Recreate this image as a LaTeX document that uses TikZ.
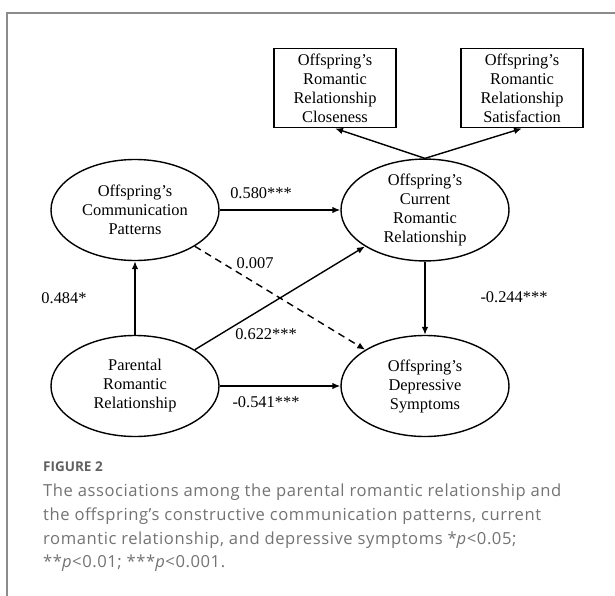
\documentclass[tikz,border=0pt]{standalone}
\usepackage{fontspec}
\setmainfont{Liberation Serif}
\newfontfamily\capfont[LetterSpace=3.4]{Open Sans}
\newfontfamily\figfont{Open Sans}
\usetikzlibrary{shapes.geometric,arrows.meta}

\begin{document}
\begin{tikzpicture}[x=1pt, y=-1pt,
		latent/.style={ellipse, draw, line width=1.4pt, minimum width=168pt, minimum height=101pt, inner sep=0pt, align=center, font=\fontsize{16.4}{19}\selectfont},
		observed/.style={rectangle, draw, line width=1.8pt, minimum width=122pt, minimum height=79pt, inner sep=0pt, align=center, font=\fontsize{16.4}{19}\selectfont},
		effect/.style={line width=1.4pt, -{Latex[length=8pt,width=6.5pt]}},
		coef/.style={inner sep=0pt, font=\fontsize{16.4}{19}\selectfont},
		capline/.style={anchor=base west, inner sep=0pt, text=black!55, font=\capfont\fontsize{16.6}{20}\selectfont}]
			%%%%% START %%%%%
			
			\useasboundingbox (0, 0) rectangle (615, 596);
			\draw[line width=1.5pt, color=black!45] (7, 596) -- (7, 13) -- (615, 13);
			
			% measured variables
			\node[observed] (close) at (335, 88) {Offspring’s\\Romantic\\Relationship\\Closeness};
			\node[observed] (satis) at (522, 88) {Offspring’s\\Romantic\\Relationship\\Satisfaction};
			
			% latent variables
			\node[latent] (comm) at (135, 210) {Offspring’s\\Communication\\Patterns};
			\node[latent] (curr) at (425, 210) {Offspring’s\\Current\\Romantic\\Relationship};
			\node[latent] (par) at (135, 386) {Parental\\Romantic\\Relationship};
			\node[latent] (dep) at (425, 386) {Offspring’s\\Depressive\\Symptoms};
			
			\draw[effect] (curr.north) -- (close.south);
			\draw[effect] (curr.north) -- (satis.south);
			
			\draw[effect] (comm) -- (curr);
			\draw[effect, dash pattern=on 7pt off 5pt] (comm) -- (dep);
			\draw[effect] (par) -- (comm);
			\draw[effect] (par) -- (curr);
			\draw[effect] (par) -- (dep);
			\draw[effect] (curr) -- (dep);
			
			% path coefficients
			\node[coef] (b580) at (261, 193) {0.580***};
			\node[coef] (b007) at (255, 263) {0.007};
			\node[coef] (b484) at (64, 298) {0.484*};
			\node[coef] (b622) at (266, 334) {0.622***};
			\node[coef] (b541) at (266, 402) {-0.541***};
			\node[coef] (b244) at (514, 297) {-0.244***};
			
			% caption
			\node[capline, text=black!62, font=\figfont\bfseries\fontsize{13.5}{16}\selectfont] (fig) at (43, 471) {FIGURE 2};
			\node[capline] (cap1) at (43, 496) {The associations among the parental romantic relationship and};
			\node[capline] (cap2) at (43, 520) {the offspring’s constructive communication patterns, current};
			\node[capline] (cap3) at (43, 544) {romantic relationship, and depressive symptoms *\textit{p}<0.05;};
			\node[capline] (cap4) at (43, 567) {**\textit{p}<0.01; ***\textit{p}<0.001.};
			
			%%%%% END %%%%%
		\end{tikzpicture}
\end{document}
